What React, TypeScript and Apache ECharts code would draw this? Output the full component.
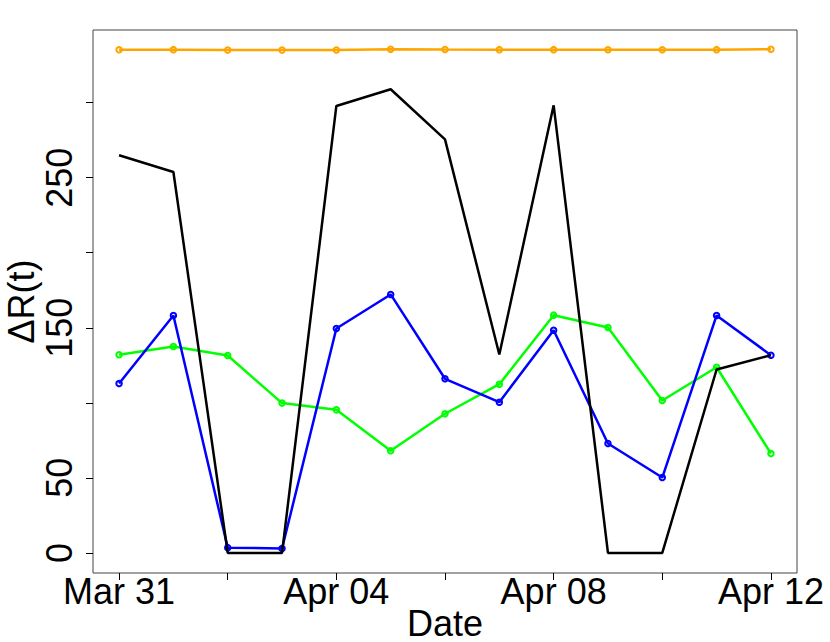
import React, { useEffect, useRef } from "react";
import * as echarts from "echarts";

const dates = ["Mar 31", "Apr 01", "Apr 02", "Apr 03", "Apr 04", "Apr 05", "Apr 06", "Apr 07", "Apr 08", "Apr 09", "Apr 10", "Apr 11", "Apr 12"];
const blackValues = [264.9, 253.8, 0, 0, 297.8, 308.9, 275.5, 132.2, 298.2, 0, 0, 122.2, 131.7];
const blueValues = [112.9, 158.2, 3.5, 2.9, 149.5, 172.2, 116.0, 100.4, 148.4, 72.9, 50.2, 158.2, 131.7];
const greenValues = [132.0, 137.5, 131.5, 99.8, 95.3, 68.0, 92.7, 112.4, 158.4, 150.2, 101.5, 123.7, 66.2];
const orangeValues = [335.2, 335.3, 335.0, 335.0, 335.1, 335.6, 335.4, 335.3, 335.3, 335.2, 335.2, 335.3, 335.6];
const yTickValues = [0, 50, 100, 150, 200, 250, 300];
const yLabelValues = [0, 50, 150, 250];
const xTickIdx = [0, 2, 4, 6, 8, 10, 12];
const xLabelIdx = [0, 4, 8, 12];

const FONT = "'Liberation Sans', Arial, Helvetica, sans-serif";

export default function App() {
  const ref = useRef<HTMLDivElement>(null);
  useEffect(() => {
    document.body.style.margin = "0";
    const chart = echarts.init(ref.current!, null, { renderer: "svg" });
    const pts = (arr: number[]) => arr.map((v, i) => [i, v]);
    const colored: [string, number[]][] = [
      ["#00FF00", greenValues],
      ["#0000FF", blueValues],
      ["#FFA500", orangeValues],
    ];
    const series: any[] = [];
    colored.forEach(([c, vals]) => {
      series.push({
        type: "line",
        data: pts(vals),
        showSymbol: false,
        symbol: "none",
        lineStyle: { color: c, width: 2.5 },
        silent: true,
      });
      series.push({
        type: "scatter",
        data: pts(vals),
        symbol: "circle",
        symbolSize: 12,
        itemStyle: { color: "#ffffff", opacity: 1 },
        silent: true,
      });
    });
    series.push({
      type: "line",
      data: pts(blackValues),
      symbol: "none",
      showSymbol: false,
      lineStyle: { color: "#000000", width: 2.5 },
      silent: true,
    });
    colored.forEach(([c, vals]) => {
      series.push({
        type: "scatter",
        data: pts(vals),
        symbol: "circle",
        symbolSize: 5.5,
        itemStyle: { color: "#ffffff", borderColor: c, borderWidth: 2, opacity: 1 },
        silent: true,
      });
    });
    chart.setOption({
      animation: false,
      backgroundColor: "#ffffff",
      grid: {
        left: 93,
        right: 33,
        top: 30,
        bottom: 69,
        show: true,
        borderColor: "#444444",
        borderWidth: 1,
        backgroundColor: "transparent",
        containLabel: false,
        outerBoundsMode: "none",
      },
      xAxis: {
        type: "value",
        min: -0.48,
        max: 12.48,
        name: "Date",
        nameLocation: "middle",
        nameGap: 32,
        nameMoveOverlap: false,
        nameTextStyle: { fontSize: 36, color: "#000", fontFamily: FONT },
        axisLine: { show: false, onZero: false },
        splitLine: { show: false },
        axisTick: { show: true, length: 7, lineStyle: { color: "#000", width: 1 }, customValues: xTickIdx },
        axisLabel: {
          show: true,
          margin: 0,
          fontSize: 36,
          color: "#000",
          fontFamily: FONT,
          customValues: xLabelIdx,
          formatter: (v: number) => dates[Math.round(v)],
        },
      },
      yAxis: {
        type: "value",
        min: -13.4,
        max: 348.4,
        name: "ΔR(t)",
        nameLocation: "middle",
        nameRotate: 90,
        nameGap: 54,
        nameMoveOverlap: false,
        nameTextStyle: { fontSize: 36, color: "#000", fontFamily: FONT },
        axisLine: { show: false, onZero: false },
        splitLine: { show: false },
        axisTick: { show: true, length: 7, lineStyle: { color: "#000", width: 1 }, customValues: yTickValues },
        axisLabel: {
          show: true,
          rotate: 90,
          margin: 16,
          fontSize: 36,
          color: "#000",
          fontFamily: FONT,
          customValues: yLabelValues,
        },
      },
      series,
    });
    return () => chart.dispose();
  }, []);
  return <div ref={ref} style={{ width: 830, height: 642, position: "fixed", left: 0, top: 0 }} />;
}
